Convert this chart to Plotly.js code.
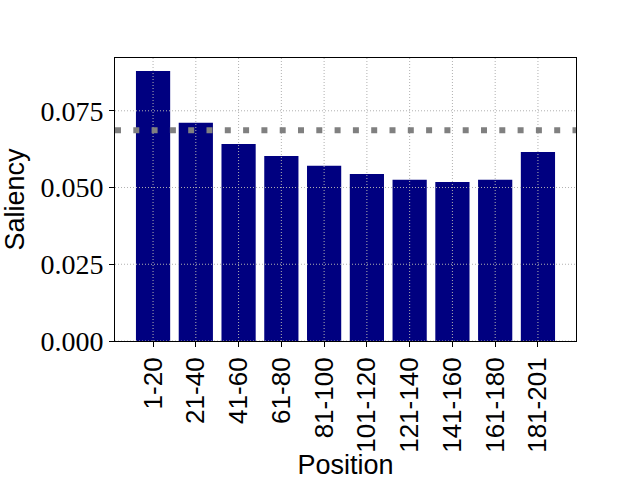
<!DOCTYPE html>
<html>
<head>
<meta charset="utf-8">
<script src="https://cdn.plot.ly/plotly-3.0.1.min.js"></script>
<style>
  body { margin: 0; }
  #chart { width: 640px; height: 480px; }
</style>
</head>
<body>
<div id="chart"></div>
<script>
// saliency per position window
const positions = ["1-20", "21-40", "41-60", "61-80", "81-100", "101-120",
  "121-140", "141-160", "161-180", "181-201"];
const saliency = [0.0880, 0.0711, 0.0642, 0.0603, 0.0571, 0.0544,
  0.0525, 0.0518, 0.0525, 0.0616];
const meanLine = 0.0687;
const yTicks = [0, 0.025, 0.05, 0.075];

const gridColor = "#b0b0b0";

// grid drawn on top of the bars, like the original
const shapes = [];
positions.forEach((p) => {
  shapes.push({
    type: "line", layer: "above", xref: "x", yref: "paper",
    x0: p, x1: p, y0: 0, y1: 1,
    line: { color: gridColor, width: 1, dash: "1px,2px" },
  });
});
yTicks.forEach((v) => {
  shapes.push({
    type: "line", layer: "above", xref: "paper", yref: "y",
    x0: 0, x1: 1, y0: v, y1: v,
    line: { color: gridColor, width: 1, dash: "1px,2px" },
  });
});
shapes.push({
  type: "line", layer: "above", xref: "paper", yref: "y",
  x0: 0, x1: 1, y0: meanLine, y1: meanLine,
  line: { color: "#808080", width: 6, dash: "6px,12.3px" },
});

const data = [
  {
    x: positions,
    y: saliency,
    type: "bar",
    marker: { color: "#000080", line: { width: 0 } },
    hoverinfo: "x+y",
  },
];

const layout = {
  width: 640,
  height: 480,
  margin: { l: 115, r: 64, t: 58, b: 139 },
  paper_bgcolor: "white",
  plot_bgcolor: "white",
  showlegend: false,
  bargap: 0.2,
  shapes: shapes,
  xaxis: {
    type: "category",
    range: [-0.89, 9.89],
    showgrid: false,
    zeroline: false,
    showline: true,
    linecolor: "black",
    linewidth: 1,
    mirror: true,
    ticks: "outside",
    ticklen: 5,
    tickcolor: "black",
    tickangle: -90,
    tickfont: { family: "Liberation Sans, sans-serif", size: 26, color: "black" },
    title: {
      text: "Position",
      font: { family: "Liberation Sans, sans-serif", size: 27, color: "black" },
      standoff: 2,
    },
  },
  yaxis: {
    range: [0, 0.0922],
    tickvals: yTicks,
    tickformat: ".3f",
    showgrid: false,
    zeroline: false,
    showline: true,
    linecolor: "black",
    linewidth: 1,
    mirror: true,
    ticks: "outside",
    ticklen: 5,
    tickcolor: "black",
    tickfont: { family: "Liberation Serif, serif", size: 28, color: "black" },
    title: {
      text: "Saliency",
      font: { family: "Liberation Sans, sans-serif", size: 27, color: "black" },
      standoff: 8,
    },
  },
};

Plotly.newPlot("chart", data, layout, { displayModeBar: false, staticPlot: true });
</script>
</body>
</html>
